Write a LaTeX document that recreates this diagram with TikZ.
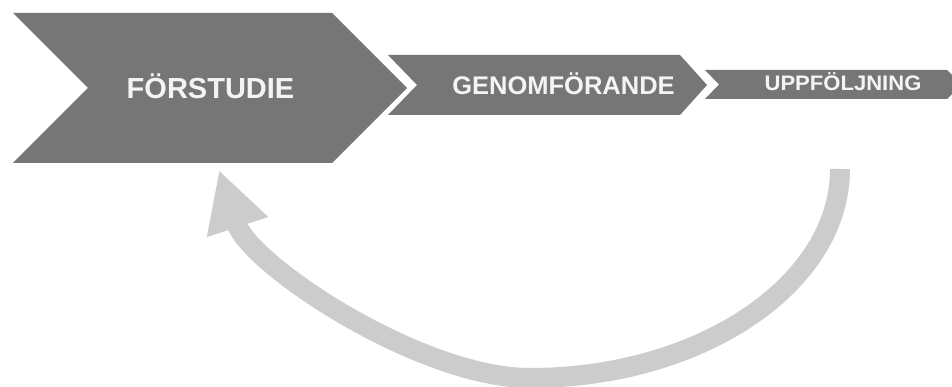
\documentclass[tikz,border=0pt]{standalone}
\usepackage{fontspec}
\setmainfont{Liberation Sans}
\usetikzlibrary{arrows.meta}
\definecolor{chevgray}{HTML}{767676}
\definecolor{loopgray}{HTML}{CCCCCC}
\definecolor{labelwhite}{HTML}{F4F4F4}

\begin{document}
\begin{tikzpicture}[x=1pt,y=-1pt,
  chev/.style={fill=chevgray,draw=none},
  phase/.style={text=labelwhite,font=\bfseries,inner sep=0pt,anchor=base},
  loopback/.style={draw=loopgray,line width=20pt,-{Triangle[length=60pt,width=60pt]}}]
\useasboundingbox (0,0) rectangle (952,387);
\clip (0,0) rectangle (952,387);
\fill[white] (0,0) rectangle (952,387);

% three process chevrons
\fill[chev] (13,13) -- (332,13) -- (407,88) -- (332,163) -- (13,163) -- (88,88) -- cycle;
\fill[chev] (388,55) -- (680,55) -- (707,85) -- (680,115) -- (388,115) -- (417,85) -- cycle;
\fill[chev] (705,70) -- (947,70) -- (962,84.5) -- (947,99) -- (705,99) -- (719,84.5) -- cycle;

% phase labels
\node[phase] (forstudie) at (210.5,98.5) {\fontsize{29}{31}\selectfont FÖRSTUDIE};
\node[phase] (genomforande) at (563.5,95) {\fontsize{25.5}{27}\selectfont GENOMFÖRANDE};
\node[phase] (uppfoljning) at (843,91) {\scalebox{1.05}[1]{\fontsize{21}{23}\selectfont UPPFÖLJNING}};

% feedback loop from follow-up back to the pre-study
\coordinate (loopstart) at (840,169);
\coordinate (loopend) at (219,170);
\draw[loopback] (loopstart) .. controls (840,284) and (701,378) .. (530,378)
  .. controls (420,378) and (250,265) .. (loopend);
\end{tikzpicture}
\end{document}
